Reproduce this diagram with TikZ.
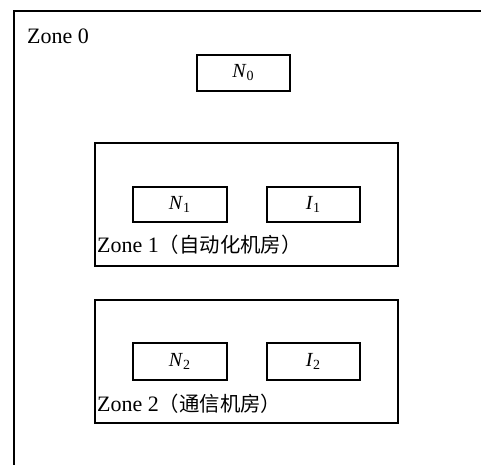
\documentclass[tikz,border=0pt]{standalone}
\usepackage{fontspec}
\setmainfont{Liberation Serif}
\newfontfamily\cjk{Noto Sans CJK SC}
\begin{document}
\begin{tikzpicture}[x=1pt,y=-1pt,
  zonebox/.style={draw, line width=1.6pt, inner sep=0pt, anchor=north west},
  elbox/.style={draw, line width=1.5pt, inner sep=0pt, anchor=north west,
    font=\fontsize{20}{22}\selectfont},
  zonelabel/.style={anchor=base west, inner sep=0pt, font=\fontsize{22}{24}\selectfont}]
\useasboundingbox (0,0) rectangle (481,464);
\clip (0,0) rectangle (481,464);
\node[zonebox, minimum width=520pt, minimum height=520pt] (z0) at (13,10) {};
\node[zonelabel] (z0l) at (27,43) {Zone 0};
\node[elbox, minimum width=93pt, minimum height=36pt] (n0) at (196,54) {\textit{N}\textsubscript{0}};
\node[zonebox, minimum width=303pt, minimum height=123pt] (z1) at (94,142) {};
\node[elbox, minimum width=94pt, minimum height=35pt] (n1) at (132,186) {\textit{N}\textsubscript{1}};
\node[elbox, minimum width=93pt, minimum height=35pt] (i1) at (266,186) {\textit{I}\textsubscript{1}};
\node[zonelabel] (z1l) at (97,252) {Zone 1{\cjk\fontsize{20.4}{22}\selectfont （自动化机房）}};
\node[zonebox, minimum width=303pt, minimum height=123pt] (z2) at (94,299) {};
\node[elbox, minimum width=94pt, minimum height=37pt] (n2) at (132,342) {\textit{N}\textsubscript{2}};
\node[elbox, minimum width=93pt, minimum height=37pt] (i2) at (266,342) {\textit{I}\textsubscript{2}};
\node[zonelabel] (z2l) at (97,411) {Zone 2{\cjk\fontsize{20.4}{22}\selectfont （通信机房）}};
\end{tikzpicture}
\end{document}
